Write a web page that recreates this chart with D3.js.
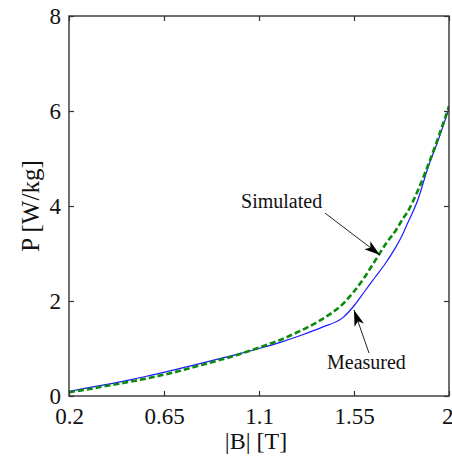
<!DOCTYPE html>
<html>
<head>
<meta charset="utf-8">
<script src="https://cdn.jsdelivr.net/npm/d3@7"></script>
<style>
  body { margin: 0; background: #fff; }
  svg { display: block; }
  text { font-family: "Liberation Serif", "Times New Roman", serif; fill: #111; }
</style>
</head>
<body>
<svg width="452" height="457"></svg>
<script>
// |B| in tesla
var bField = [0.2, 0.3, 0.4, 0.5, 0.6, 0.7, 0.8, 0.9, 1.0, 1.1, 1.2, 1.3, 1.4, 1.5,
  1.55, 1.6, 1.65, 1.7, 1.75, 1.78, 1.8, 1.85, 1.9, 1.95, 2.0];
// losses in W/kg
var measured = [0.1, 0.18, 0.26, 0.35, 0.45, 0.55, 0.66, 0.77, 0.88, 1.0, 1.13, 1.28, 1.45, 1.66,
  1.9, 2.2, 2.5, 2.8, 3.15, 3.4, 3.6, 4.1, 4.8, 5.4, 6.05];
var simulated = [0.08, 0.15, 0.23, 0.31, 0.4, 0.5, 0.62, 0.74, 0.87, 1.02, 1.18, 1.38, 1.62, 1.95,
  2.2, 2.5, 2.85, 3.2, 3.5, 3.72, 3.85, 4.3, 4.85, 5.45, 6.1];

var xTicks = [0.2, 0.65, 1.1, 1.55, 2];
var xTickLabels = ["0.2", "0.65", "1.1", "1.55", "2"];
var yTicks = [0, 2, 4, 6, 8];

// annotations: label, text position, arrow tail, arrow tip (data units)
var notes = [
  { label: "Simulated", tx: 1.015, ty: 3.96, x0: 1.413, y0: 3.85, x1: 1.673, y1: 2.97 },
  { label: "Measured", tx: 1.422, ty: 0.57, x0: 1.621, y0: 0.905, x1: 1.55, y1: 1.81 }
];

var svg = d3.select("svg"),
  pLeft = 69, pTop = 16, pRight = 449, pBottom = 396;

var x = d3.scaleLinear().domain([0.2, 2]).range([pLeft, pRight]);
var y = d3.scaleLinear().domain([0, 8]).range([pBottom, pTop]);

var defs = svg.append("defs");
defs.append("marker")
  .attr("id", "head")
  .attr("viewBox", "0 0 16 10")
  .attr("refX", 16).attr("refY", 5)
  .attr("markerWidth", 16).attr("markerHeight", 10)
  .attr("markerUnits", "userSpaceOnUse")
  .attr("orient", "auto")
  .append("path")
  .attr("d", "M0,0 L16,5 L0,10 L4,5 Z")
  .attr("fill", "#000");

defs.append("clipPath").attr("id", "plot")
  .append("rect").attr("x", pLeft).attr("y", pTop)
  .attr("width", pRight - pLeft).attr("height", pBottom - pTop);

var line = d3.line()
  .x(function (d, i) { return x(bField[i]); })
  .y(function (d) { return y(d); })
  .curve(d3.curveMonotoneX);

var g = svg.append("g").attr("clip-path", "url(#plot)");

g.append("path")
  .datum(measured)
  .attr("d", line)
  .attr("fill", "none")
  .attr("stroke", "#1a1aff")
  .attr("stroke-width", 1.2);

g.append("path")
  .datum(simulated)
  .attr("d", line)
  .attr("fill", "none")
  .attr("stroke", "#0a8a0a")
  .attr("stroke-width", 2.6)
  .attr("stroke-dasharray", "6,3");

// axes with ticks inside, mirrored on top and right
var axisBottom = d3.axisBottom(x).tickValues(xTicks)
  .tickFormat(function (d, i) { return xTickLabels[i]; })
  .tickSizeInner(-5).tickSizeOuter(0).tickPadding(12);
var axisTop = d3.axisTop(x).tickValues(xTicks).tickFormat("")
  .tickSizeInner(-5).tickSizeOuter(0);
var axisLeft = d3.axisLeft(y).tickValues(yTicks).tickFormat(d3.format("d"))
  .tickSizeInner(-5).tickSizeOuter(0).tickPadding(8);
var axisRight = d3.axisRight(y).tickValues(yTicks).tickFormat("")
  .tickSizeInner(-5).tickSizeOuter(0);

function style(sel) {
  sel.select(".domain").remove();
  sel.selectAll("line").attr("stroke", "#333").attr("stroke-width", 1.2);
  sel.selectAll("text").attr("font-size", 23).attr("fill", "#111")
    .attr("font-family", "Liberation Serif, Times New Roman, serif");
}

var gx = svg.append("g").attr("transform", "translate(0," + pBottom + ")").call(axisBottom).call(style);
// last label sits at the right edge of the page
gx.selectAll(".tick text").filter(function (d) { return d === 2; })
  .attr("text-anchor", "end").attr("dx", 4);
svg.append("g").attr("transform", "translate(0," + pTop + ")").call(axisTop).call(style);
svg.append("g").attr("transform", "translate(" + pLeft + ",0)").call(axisLeft).call(style);
svg.append("g").attr("transform", "translate(" + pRight + ",0)").call(axisRight).call(style);

svg.append("rect")
  .attr("x", pLeft).attr("y", pTop)
  .attr("width", pRight - pLeft).attr("height", pBottom - pTop)
  .attr("fill", "none").attr("stroke", "#333").attr("stroke-width", 1.4);

// axis titles
svg.append("text")
  .attr("x", 256).attr("y", 449)
  .attr("text-anchor", "middle").attr("font-size", 24)
  .text("|B| [T]");

svg.append("text")
  .attr("transform", "translate(39,206) rotate(-90)")
  .attr("text-anchor", "middle").attr("font-size", 25)
  .text("P [W/kg]");

// annotations
var ann = svg.append("g");
notes.forEach(function (n) {
  ann.append("line")
    .attr("x1", x(n.x0)).attr("y1", y(n.y0))
    .attr("x2", x(n.x1)).attr("y2", y(n.y1))
    .attr("stroke", "#222").attr("stroke-width", 1)
    .attr("marker-end", "url(#head)");
  ann.append("text")
    .attr("x", x(n.tx)).attr("y", y(n.ty))
    .attr("font-size", 20)
    .text(n.label);
});
</script>
</body>
</html>
